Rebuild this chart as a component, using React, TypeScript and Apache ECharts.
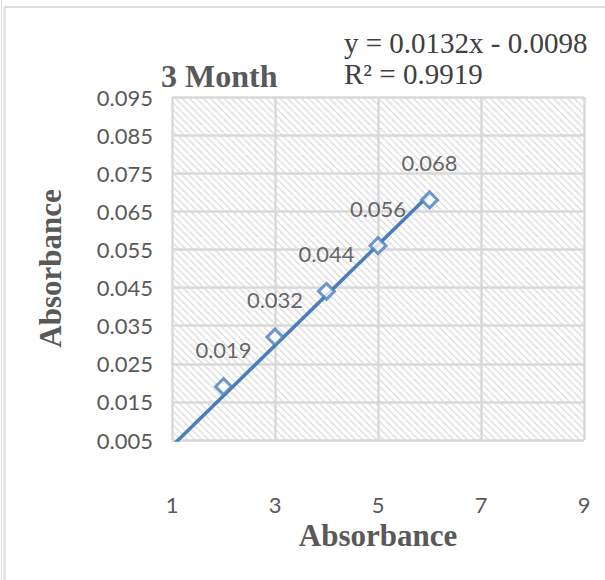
import React, { useEffect, useRef } from "react";
import * as echarts from "echarts";

const xValues = [2, 3, 4, 5, 6];
const yValues = [0.019, 0.032, 0.044, 0.056, 0.068];
const dataLabels = ["0.019", "0.032", "0.044", "0.056", "0.068"];
const yTickLabels = ["0.005", "0.015", "0.025", "0.035", "0.045", "0.055", "0.065", "0.075", "0.085", "0.095"];
const xTickLabels = ["1", "3", "5", "7", "9"];
const trendSlope = 0.0132;
const trendIntercept = -0.0098;
const trendR2 = 0.9919;
const trendXRange = [1, 6];
const chartTitle = "3 Month";
const xAxisTitle = "Absorbance";
const yAxisTitle = "Absorbance";

export default function App() {
  const ref = useRef<HTMLDivElement>(null);
  useEffect(() => {
    if (!ref.current) return;
    const chart = echarts.init(ref.current, undefined, { renderer: "svg" });

    const s = 7;
    const cv = document.createElement("canvas");
    cv.width = s;
    cv.height = s;
    const ctx = cv.getContext("2d")!;
    ctx.fillStyle = "#ffffff";
    ctx.fillRect(0, 0, s, s);
    ctx.strokeStyle = "#e2e2e2";
    ctx.lineWidth = 1.6;
    for (const k of [-1, 0, 1]) {
      ctx.beginPath();
      ctx.moveTo(k * s, 0);
      ctx.lineTo(k * s + s, s);
      ctx.stroke();
    }
    const hatch = { image: cv.toDataURL(), repeat: "repeat", imageWidth: s, imageHeight: s };

    const fmt = (v: number) => v.toFixed(3);
    const trendData = trendXRange.map((x) => [x, trendSlope * x + trendIntercept]);
    const sign = trendIntercept < 0 ? "-" : "+";
    const eq = `y = ${trendSlope}x ${sign} ${Math.abs(trendIntercept)}`;
    const r2 = `R² = ${trendR2}`;

    const serif = "'Liberation Serif', 'DejaVu Serif', serif";
    const sans = "Lato, 'Open Sans', sans-serif";

    chart.setOption({
      animation: false,
      backgroundColor: "#ffffff",
      title: [
        {
          text: chartTitle,
          left: 156,
          top: 55,
          textStyle: { fontFamily: serif, fontWeight: "bold", fontSize: 32, color: "#595959" },
        },
        {
          text: eq + "\n" + r2,
          left: 339,
          top: 22,
          textStyle: { fontFamily: serif, fontWeight: "normal", fontSize: 29, color: "#404040", lineHeight: 31 },
        },
      ],
      grid: {
        left: 172,
        right: 21,
        top: 97,
        bottom: 140,
        show: true,
        borderWidth: 0,
        backgroundColor: hatch,
      },
      xAxis: {
        type: "value",
        min: 1,
        max: 9,
        interval: 1,
        name: xAxisTitle,
        nameLocation: "middle",
        nameGap: 78,
        nameTextStyle: { fontFamily: serif, fontWeight: "bold", fontSize: 31, color: "#595959" },
        axisLine: { show: false },
        axisTick: { show: false },
        axisLabel: {
          margin: 53,
          fontFamily: sans,
          fontSize: 22,
          color: "#595959",
          formatter: (v: number) => {
            const t = String(Math.round(v));
            return xTickLabels.includes(t) ? t : "";
          },
        },
        splitLine: { show: true, lineStyle: { color: ["#d9d9d9", "rgba(0,0,0,0)"], width: 2.5 } },
      },
      yAxis: {
        type: "value",
        min: 0.005,
        max: 0.095,
        interval: 0.005,
        name: yAxisTitle,
        nameLocation: "middle",
        nameGap: 106,
        nameTextStyle: { fontFamily: serif, fontWeight: "bold", fontSize: 31, color: "#595959" },
        axisLine: { show: false },
        axisTick: { show: false },
        axisLabel: {
          margin: 19,
          fontFamily: sans,
          fontSize: 22,
          color: "#595959",
          formatter: (v: number) => {
            const t = fmt(v);
            return yTickLabels.includes(t) ? t : "";
          },
        },
        splitLine: { show: true, lineStyle: { color: ["#d9d9d9", "rgba(0,0,0,0)"], width: 2.5 } },
      },
      graphic: [
        { type: "line", shape: { x1: 1.5, y1: 0, x2: 1.5, y2: 580 }, style: { stroke: "#dcdcdc", lineWidth: 1 } },
        { type: "line", shape: { x1: 4.5, y1: 7, x2: 4.5, y2: 580 }, style: { stroke: "#dcdcdc", lineWidth: 2 } },
        { type: "line", shape: { x1: 4, y1: 7, x2: 605, y2: 7 }, style: { stroke: "#dcdcdc", lineWidth: 2 } },
      ],
      series: [
        {
          type: "line",
          data: trendData,
          symbol: "none",
          clip: true,
          silent: true,
          lineStyle: { color: "#4a7ebb", width: 3.5 },
          z: 2,
        },
        {
          type: "scatter",
          data: xValues.map((x, i) => [x, yValues[i]]),
          symbol: "diamond",
          symbolSize: 16,
          itemStyle: { color: "#ffffff", borderColor: "#4a7ebb", borderWidth: 3 },
          label: {
            show: true,
            position: "top",
            distance: 17,
            fontFamily: sans,
            fontSize: 22,
            color: "#404040",
            formatter: (p: any) => dataLabels[p.dataIndex],
          },
          z: 3,
        },
      ],
    });
    return () => chart.dispose();
  }, []);
  return <div ref={ref} style={{ position: "fixed", left: 0, top: 0, width: 605, height: 580 }} />;
}
